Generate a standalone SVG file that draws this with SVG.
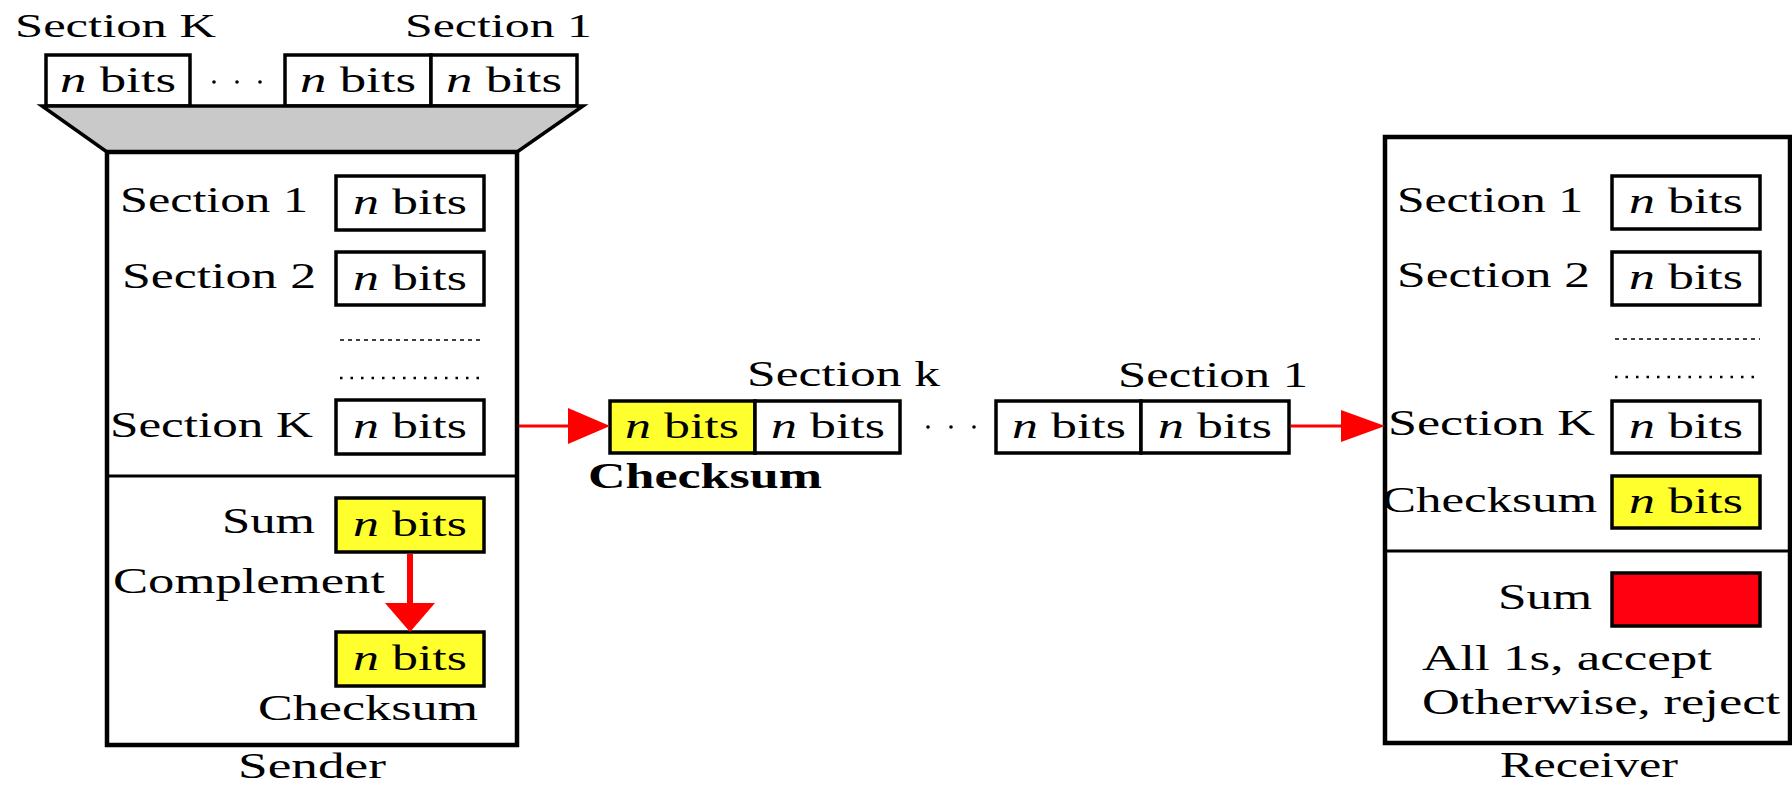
<svg xmlns="http://www.w3.org/2000/svg" width="1792" height="786" viewBox="0 0 1792 786">
<style>
  text { font-family: "Liberation Serif", "Times New Roman", Tinos, serif; font-size: 36px; fill: #000; }
  .top { font-size: 34px; }
  .bold { font-weight: bold; }
  .bits { text-anchor: middle; }
  .it { font-style: italic; }
  .box { fill: #fff; stroke: #000; stroke-width: 3.5; }
  .ybox { fill: #ffff2e; stroke: #000; stroke-width: 3.5; }
  .rbox { fill: #ff0010; stroke: #000; stroke-width: 3.5; }
  .outer { fill: #fff; stroke: #000; stroke-width: 4.5; }
  .div { stroke: #000; stroke-width: 3; }
  .dash { stroke: #000; stroke-width: 1.5; stroke-dasharray: 4 4; }
  .dots { stroke: #000; stroke-width: 2.5; stroke-dasharray: 2.5 8; }
  .red { stroke: #ff0000; fill: none; }
  .head { fill: #ff0000; }
  .dot { fill: #000; }
</style>

<g id="top-sections">
  <text class="top" x="15" y="37" textLength="201" lengthAdjust="spacingAndGlyphs">Section K</text>
  <text class="top" x="405" y="37" textLength="187" lengthAdjust="spacingAndGlyphs">Section 1</text>
  <rect class="box" x="46" y="55" width="144" height="51"/>
  <text class="bits" x="118" y="92" textLength="116" lengthAdjust="spacingAndGlyphs"><tspan class="it">n</tspan> bits</text>
  <circle class="dot" cx="214" cy="82" r="1.8"/>
  <circle class="dot" cx="237" cy="82" r="1.8"/>
  <circle class="dot" cx="260" cy="82" r="1.8"/>
  <rect class="box" x="285" y="55" width="146" height="51"/>
  <text class="bits" x="358" y="92" textLength="116" lengthAdjust="spacingAndGlyphs"><tspan class="it">n</tspan> bits</text>
  <rect class="box" x="431" y="55" width="146" height="51"/>
  <text class="bits" x="504" y="92" textLength="116" lengthAdjust="spacingAndGlyphs"><tspan class="it">n</tspan> bits</text>
  <polygon points="42,106 583,106 517,152 107,152" fill="#c9c9c9" stroke="#000" stroke-width="3.5" stroke-linejoin="miter"/>
</g>

<g id="sender">
  <rect class="outer" x="107" y="152" width="410" height="593"/>
  <text x="120" y="212" textLength="188" lengthAdjust="spacingAndGlyphs">Section 1</text>
  <rect class="box" x="336" y="176" width="148" height="54"/>
  <text class="bits" x="410" y="214" textLength="114" lengthAdjust="spacingAndGlyphs"><tspan class="it">n</tspan> bits</text>
  <text x="122" y="288" textLength="194" lengthAdjust="spacingAndGlyphs">Section 2</text>
  <rect class="box" x="336" y="252" width="148" height="53"/>
  <text class="bits" x="410" y="290" textLength="114" lengthAdjust="spacingAndGlyphs"><tspan class="it">n</tspan> bits</text>
  <line class="dash" x1="340" y1="340" x2="484" y2="340"/>
  <line class="dots" x1="340" y1="378" x2="484" y2="378"/>
  <text x="110" y="437" textLength="203" lengthAdjust="spacingAndGlyphs">Section K</text>
  <rect class="box" x="336" y="400" width="148" height="54"/>
  <text class="bits" x="410" y="438" textLength="114" lengthAdjust="spacingAndGlyphs"><tspan class="it">n</tspan> bits</text>
  <line class="div" x1="107" y1="476" x2="517" y2="476"/>
  <text x="222" y="533" textLength="93" lengthAdjust="spacingAndGlyphs">Sum</text>
  <rect class="ybox" x="336" y="498" width="148" height="54"/>
  <text class="bits" x="410" y="536" textLength="114" lengthAdjust="spacingAndGlyphs"><tspan class="it">n</tspan> bits</text>
  <text x="113" y="593" textLength="272" lengthAdjust="spacingAndGlyphs">Complement</text>
  <rect class="ybox" x="336" y="632" width="148" height="54"/>
  <text class="bits" x="410" y="670" textLength="114" lengthAdjust="spacingAndGlyphs"><tspan class="it">n</tspan> bits</text>
  <text x="258" y="720" textLength="220" lengthAdjust="spacingAndGlyphs">Checksum</text>
  <text x="238" y="778" textLength="148" lengthAdjust="spacingAndGlyphs">Sender</text>
</g>

<g id="transmitted">
  <text x="747" y="386" textLength="193" lengthAdjust="spacingAndGlyphs">Section k</text>
  <rect class="ybox" x="610" y="401" width="145" height="52"/>
  <text class="bits" x="682" y="438" textLength="114" lengthAdjust="spacingAndGlyphs"><tspan class="it">n</tspan> bits</text>
  <rect class="box" x="755" y="401" width="145" height="52"/>
  <text class="bits" x="828" y="438" textLength="114" lengthAdjust="spacingAndGlyphs"><tspan class="it">n</tspan> bits</text>
  <circle class="dot" cx="928" cy="427" r="1.8"/>
  <circle class="dot" cx="951" cy="427" r="1.8"/>
  <circle class="dot" cx="974" cy="427" r="1.8"/>
  <rect class="box" x="996" y="401" width="145" height="52"/>
  <text class="bits" x="1069" y="438" textLength="114" lengthAdjust="spacingAndGlyphs"><tspan class="it">n</tspan> bits</text>
  <rect class="box" x="1141" y="401" width="148" height="52"/>
  <text class="bits" x="1215" y="438" textLength="114" lengthAdjust="spacingAndGlyphs"><tspan class="it">n</tspan> bits</text>
  <text x="1118" y="387" textLength="190" lengthAdjust="spacingAndGlyphs">Section 1</text>
  <text class="bold" x="588" y="488" textLength="234" lengthAdjust="spacingAndGlyphs">Checksum</text>
</g>

<g id="receiver">
  <rect class="outer" x="1385" y="137" width="405" height="606"/>
  <text x="1397" y="212" textLength="186" lengthAdjust="spacingAndGlyphs">Section 1</text>
  <rect class="box" x="1612" y="176" width="148" height="53"/>
  <text class="bits" x="1686" y="213" textLength="114" lengthAdjust="spacingAndGlyphs"><tspan class="it">n</tspan> bits</text>
  <text x="1397" y="287" textLength="193" lengthAdjust="spacingAndGlyphs">Section 2</text>
  <rect class="box" x="1612" y="252" width="148" height="53"/>
  <text class="bits" x="1686" y="289" textLength="114" lengthAdjust="spacingAndGlyphs"><tspan class="it">n</tspan> bits</text>
  <line class="dash" x1="1615" y1="339" x2="1760" y2="339"/>
  <line class="dots" x1="1615" y1="377" x2="1760" y2="377"/>
  <text x="1388" y="435" textLength="207" lengthAdjust="spacingAndGlyphs">Section K</text>
  <rect class="box" x="1612" y="401" width="148" height="52"/>
  <text class="bits" x="1686" y="438" textLength="114" lengthAdjust="spacingAndGlyphs"><tspan class="it">n</tspan> bits</text>
  <text x="1382" y="512" textLength="215" lengthAdjust="spacingAndGlyphs">Checksum</text>
  <rect class="ybox" x="1612" y="476" width="148" height="52"/>
  <text class="bits" x="1686" y="513" textLength="114" lengthAdjust="spacingAndGlyphs"><tspan class="it">n</tspan> bits</text>
  <line class="div" x1="1385" y1="551" x2="1790" y2="551"/>
  <text x="1498" y="609" textLength="94" lengthAdjust="spacingAndGlyphs">Sum</text>
  <rect class="rbox" x="1612" y="573" width="148" height="53"/>
  <text x="1422" y="670" textLength="290" lengthAdjust="spacingAndGlyphs">All 1s, accept</text>
  <text x="1422" y="714" textLength="358" lengthAdjust="spacingAndGlyphs">Otherwise, reject</text>
  <text x="1500" y="777" textLength="178" lengthAdjust="spacingAndGlyphs">Receiver</text>
</g>

<g id="connectors">
  <line class="red" x1="519" y1="426" x2="572" y2="426" stroke-width="3"/>
  <polygon class="head" points="568,408 610,426 568,444"/>
  <line class="red" x1="1291" y1="426" x2="1344" y2="426" stroke-width="3"/>
  <polygon class="head" points="1341,410 1385,426 1341,442"/>
  <line class="red" x1="410" y1="554" x2="410" y2="606" stroke-width="6"/>
  <polygon class="head" points="385,603 435,603 410,632"/>
</g>
</svg>
